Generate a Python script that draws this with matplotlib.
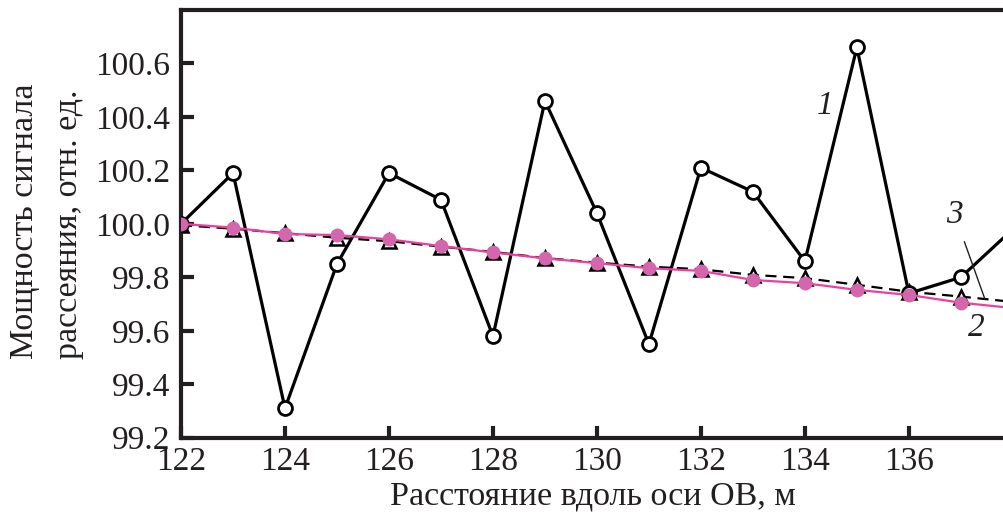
import matplotlib
matplotlib.use("Agg")
import matplotlib.pyplot as plt

plt.rcParams['font.family'] = ['Liberation Serif', 'DejaVu Serif']

# distance along the fibre, m
dist = [122, 123, 124, 125, 126, 127, 128, 129, 130, 131, 132, 133, 134, 135, 136, 137, 138]

# 1 - measured trace with noise
power_1 = [100.00, 100.19, 99.31, 99.85, 100.19, 100.09, 99.58, 100.46, 100.04,
           99.55, 100.21, 100.12, 99.86, 100.66, 99.74, 99.80, 99.98]
# 2 - smoothed trace
power_2 = [100.00, 99.986, 99.962, 99.958, 99.942, 99.917, 99.893, 99.871, 99.853,
           99.834, 99.824, 99.790, 99.778, 99.753, 99.734, 99.705, 99.685]
# 3 - reference trace
power_3 = [99.995, 99.982, 99.965, 99.948, 99.935, 99.915, 99.895, 99.872, 99.855,
           99.840, 99.830, 99.809, 99.797, 99.772, 99.746, 99.728, 99.708]

fig = plt.figure(figsize=(10.04, 5.21), dpi=100)
ax = fig.add_axes([0.1803, 0.1599, 0.8197, 0.8209])

ax.plot(dist, power_3, color='black', lw=1.6, ls=(0, (5, 3)), marker='^',
        ms=10, mfc='white', mec='black', mew=1.8, zorder=2)
ax.plot(dist, power_1, color='black', lw=2.3, marker='o', ms=10,
        mfc='white', mec='black', mew=2.0, zorder=3)
ax.plot(dist, power_2, color='#ee3fa0', lw=1.6, zorder=4)
ax.plot(dist, power_2, ls='none', marker='o', ms=9, mfc='#d466ad',
        mec='#d466ad', zorder=5)

ax.set_xlim(122, 137.83)
ax.set_ylim(99.2, 100.8)
ax.set_xticks(range(122, 138, 2))
ax.set_yticks([99.2, 99.4, 99.6, 99.8, 100.0, 100.2, 100.4, 100.6])
ax.set_yticklabels(['99.2', '99.4', '99.6', '99.8', '100.0', '100.2', '100.4', '100.6'])

ax.spines['right'].set_visible(False)
for side in ['left', 'bottom', 'top']:
    ax.spines[side].set_linewidth(3.0)
    ax.spines[side].set_color('#231f20')
ax.tick_params(direction='in', length=9, width=3, color='#231f20',
               labelsize=24, pad=8, labelcolor='#231f20')
ax.tick_params(axis='x', pad=6)

ax.set_xlabel('Расстояние вдоль оси ОВ, м', fontsize=24.5, color='#231f20', labelpad=3)
fig.text(0.025, 0.840, 'Мощность сигнала', rotation=90, fontsize=24.5,
         ha='center', va='top', color='#231f20')
fig.text(0.068, 0.828, 'рассеяния, отн. ед.', rotation=90, fontsize=24.5,
         ha='center', va='top', color='#231f20')

# curve labels
ax.annotate('1', xy=(134.4, 100.44), fontsize=24, style='italic',
            ha='center', va='center', color='#231f20')
ax.annotate('2', xy=(137.3, 99.61), fontsize=24, style='italic',
            ha='center', va='center', color='#231f20')
ax.annotate('3', xy=(137.46, 99.72), xytext=(136.88, 100.035), fontsize=24,
            style='italic', ha='center', va='center', color='#231f20',
            arrowprops=dict(arrowstyle='-', lw=1.0, color='#231f20',
                            shrinkA=7, shrinkB=0))

fig.savefig('out.png', dpi=100)
